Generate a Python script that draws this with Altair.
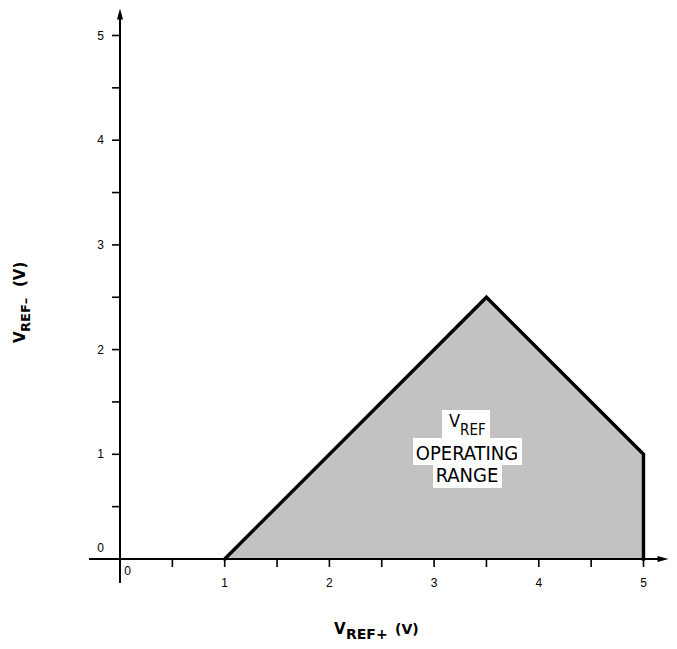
import altair as alt
import pandas as pd

# ---------------- data ----------------
region_x = [1.0, 3.5, 5.0, 5.0]
region_y = [0.0, 2.5, 1.0, 0.0]

x_tick_vals = [0.5, 1.0, 1.5, 2.0, 2.5, 3.0, 3.5, 4.0, 4.5, 5.0]
y_tick_vals = [0.5, 1.0, 1.5, 2.0, 2.5, 3.0, 3.5, 4.0, 4.5, 5.0]
x_label_vals = [1, 2, 3, 4, 5]
x_label_text = ["1", "2", "3", "4", "5"]
y_label_vals = [1, 2, 3, 4, 5]
y_label_text = ["1", "2", "3", "4", "5"]
origin_label = "0"
note_lines = ["OPERATING", "RANGE"]

# ---------------- layout (page pixels -> data units) ----------------
PX = 104.7          # pixels per volt
OX, OY = 120, 559   # page position of the origin
W, H = 661, 633


def dx(p):
    return (p - OX) / PX


def dy(p):
    return (OY - p) / PX


x_dom = [dx(8), dx(8 + W)]
y_dom = [dy(8 + H), dy(8)]
xs = alt.Scale(domain=x_dom, nice=False, zero=False)
ys = alt.Scale(domain=y_dom, nice=False, zero=False)
TICK = 8 / PX

one = pd.DataFrame({"k": [0]})

region = pd.DataFrame({"x": region_x, "y": region_y, "i": range(len(region_x))})
# the filled area: top edge points (the vertical edge at x=5 closes to the baseline)
area_df = region.iloc[:3].copy()

area = alt.Chart(area_df).mark_area(
    fill="#c2c2c2", fillOpacity=1, stroke=None, interpolate="linear"
).transform_calculate(base="0").encode(
    x=alt.X("x:Q", scale=xs, axis=None),
    y=alt.Y("y:Q", scale=ys, axis=None),
    y2="base:Q",
)
outline = alt.Chart(region).mark_line(
    color="black", strokeWidth=3.4, strokeJoin="miter", strokeCap="square"
).encode(
    x=alt.X("x:Q", scale=xs, axis=None),
    y=alt.Y("y:Q", scale=ys, axis=None),
    order="i:Q",
)

# white label boxes
boxes = pd.DataFrame({
    "x1": [dx(442), dx(413), dx(433)],
    "x2": [dx(490), dx(522), dx(502)],
    "y1": [dy(410), dy(438), dy(465)],
    "y2": [dy(438), dy(465), dy(488)],
})
box_layer = alt.Chart(boxes).mark_rect(color="white").encode(
    x=alt.X("x1:Q", scale=xs, axis=None), x2="x2:Q",
    y=alt.Y("y1:Q", scale=ys, axis=None), y2="y2:Q",
)

NFONT = "Liberation Sans Narrow, DejaVu Sans Condensed, sans-serif"


def txt(text, px, py, size, font, align="left", weight="normal", angle=0, baseline="alphabetic"):
    kw = dict(text=text, font=font, fontSize=size, align=align, baseline=baseline,
              fontWeight=weight, color="black")
    if angle:
        kw["angle"] = angle
    return alt.Chart(one).mark_text(**kw).encode(
        x=alt.X(datum=dx(px), scale=xs, axis=None),
        y=alt.Y(datum=dy(py), scale=ys, axis=None),
    )


note = [
    txt("V", 449, 427, 18, NFONT),
    txt("REF", 460, 435, 15, NFONT),
    txt(note_lines[0], 467, 460, 20, NFONT, align="center"),
    txt(note_lines[1], 467, 482, 20, NFONT, align="center"),
]

# axes lines
x_axis = alt.Chart(one).mark_rule(color="black", strokeWidth=2).encode(
    x=alt.X(datum=dx(89), scale=xs, axis=None), x2=alt.datum(dx(8 + W - 8)),
    y=alt.Y(datum=0, scale=ys, axis=None),
)
y_axis = alt.Chart(one).mark_rule(color="black", strokeWidth=2).encode(
    x=alt.X(datum=0, scale=xs, axis=None),
    y=alt.Y(datum=dy(583), scale=ys, axis=None), y2=alt.datum(dy(8 + 8)),
)
x_arrow = alt.Chart(one).mark_point(
    shape="M-1,-0.55L1,0L-1,0.55Z", filled=True, color="black", size=121, opacity=1
).encode(
    x=alt.X(datum=dx(8 + W - 6), scale=xs, axis=None),
    y=alt.Y(datum=0, scale=ys, axis=None),
)
y_arrow = alt.Chart(one).mark_point(
    shape="M-0.55,1L0,-1L0.55,1Z", filled=True, color="black", size=121, opacity=1
).encode(
    x=alt.X(datum=0, scale=xs, axis=None),
    y=alt.Y(datum=dy(8 + 6), scale=ys, axis=None),
)

xt = pd.DataFrame({"v": x_tick_vals})
yt = pd.DataFrame({"v": y_tick_vals})
x_ticks = alt.Chart(xt).mark_rule(color="black", strokeWidth=1.6).encode(
    x=alt.X("v:Q", scale=xs, axis=None),
    y=alt.Y(datum=0, scale=ys, axis=None), y2=alt.datum(-TICK),
)
y_ticks = alt.Chart(yt).mark_rule(color="black", strokeWidth=1.6).encode(
    y=alt.Y("v:Q", scale=ys, axis=None),
    x=alt.X(datum=0, scale=xs, axis=None), x2=alt.datum(-TICK),
)

LFONT = "Liberation Sans, Arial, sans-serif"
xl = pd.DataFrame({"v": x_label_vals, "t": x_label_text})
yl = pd.DataFrame({"v": y_label_vals, "t": y_label_text})
x_labels = alt.Chart(xl).mark_text(font=LFONT, fontSize=12, baseline="alphabetic",
                                   align="center", color="black").encode(
    x=alt.X("v:Q", scale=xs, axis=None),
    y=alt.Y(datum=dy(587), scale=ys, axis=None),
    text="t:N",
)
y_labels = alt.Chart(yl).mark_text(font=LFONT, fontSize=12, baseline="middle",
                                   align="center", color="black").encode(
    y=alt.Y("v:Q", scale=ys, axis=None),
    x=alt.X(datum=dx(100.5), scale=xs, axis=None),
    text="t:N",
)
zero_labels = [
    txt(origin_label, 127.5, 575, 12, LFONT, align="center"),
    txt(origin_label, 100.5, 548, 12, LFONT, align="center", baseline="middle"),
]

TFONT = "DejaVu Sans, sans-serif"
titles = [
    txt("V", 334, 634, 15, TFONT, weight="bold"),
    txt("REF+", 346, 639, 14, TFONT, weight="bold"),
    txt("(V)", 395, 634, 14, TFONT, weight="bold"),
    txt("V", 25, 343, 15, TFONT, weight="bold", angle=270),
    txt("REF\u2013", 30, 332, 13, TFONT, weight="bold", angle=270),
    txt("(V)", 25, 287, 15, TFONT, weight="bold", angle=270),
]

chart = alt.layer(
    area, outline, box_layer, *note,
    x_axis, y_axis, x_ticks, y_ticks, x_arrow, y_arrow,
    x_labels, y_labels, *zero_labels, *titles,
).properties(
    width=W, height=H, autosize=alt.AutoSizeParams(type="none"), padding=0,
).configure_view(stroke=None)

chart.save("out.html", embed_options={"renderer": "svg", "actions": False})
